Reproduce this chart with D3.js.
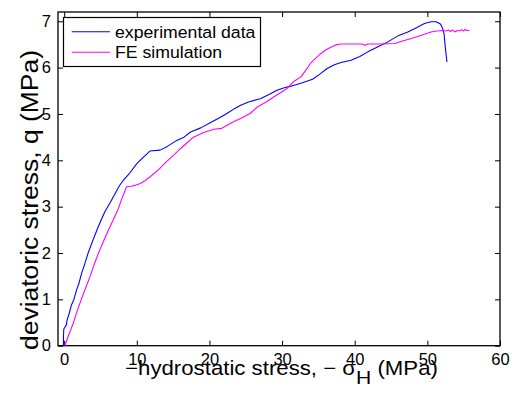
<!DOCTYPE html>
<html><head><meta charset="utf-8">
<script src="https://cdn.jsdelivr.net/npm/d3@7"></script>
<style>
body{margin:0;background:#fff;}
svg{display:block;font-family:"Liberation Sans",Arial,Helvetica,sans-serif;}
</style></head>
<body><svg id="c" width="519" height="396"></svg>
<script>
// ---- data ----
const expX = [-0.1,-0.1,-0.05,0.3,0.4,0.7,1.0,1.3,1.7,2.0,2.4,2.8,3.3,3.9,4.5,5.0,5.6,6.3,7.0,7.6,8.15,9.0,10,11,11.8,13.2,14.2,15.5,16.5,17.4,18.8,20.1,21.2,22.4,23.5,24.3,25.4,27.0,28.2,29.3,30.2,31.2,32.7,34.2,35.2,36.2,37.2,38.1,39.5,40.7,41.8,43.2,44.5,46.0,47.3,48.5,49.6,50.5,51.2,51.8,52.1,52.3,52.4,52.5,52.6,52.7];
const expY = [0,0.2,0.36,0.45,0.55,0.7,0.88,0.98,1.2,1.33,1.56,1.75,2.0,2.25,2.49,2.68,2.89,3.08,3.28,3.45,3.57,3.72,3.93,4.08,4.2,4.22,4.3,4.43,4.5,4.61,4.7,4.81,4.9,5.01,5.12,5.19,5.26,5.33,5.42,5.51,5.56,5.6,5.67,5.75,5.86,5.98,6.06,6.11,6.16,6.24,6.34,6.45,6.55,6.69,6.77,6.86,6.95,6.99,6.99,6.94,6.85,6.73,6.55,6.4,6.25,6.12];
const feX = [0.1,0.6,1.24,1.8,2.4,3.0,3.55,4.1,4.7,5.4,6.08,6.8,7.46,8.0,8.6,9.2,9.77,10.5,11.1,11.8,13.0,14.1,15.0,16.0,17.0,17.8,19.2,20.6,21.7,22.5,23.3,24.3,25.6,26.6,27.8,28.9,30.7,31.6,32.6,33.3,33.9,34.6,35.3,36.0,36.7,37.4,38.1,39.5,41.0,41.4,41.8,43.6,45.5,46.7,47.8,49.2,50.5,51.3,52.1,52.5,52.9,53.2,53.5,53.8,54.1,54.4,54.7,55.0,55.2,55.4,55.8];
const feY = [0,0.22,0.48,0.75,1.02,1.26,1.49,1.74,1.99,2.25,2.49,2.73,2.96,3.2,3.43,3.44,3.46,3.5,3.56,3.64,3.8,3.97,4.1,4.25,4.39,4.5,4.6,4.67,4.69,4.76,4.83,4.9,5.01,5.15,5.26,5.37,5.55,5.7,5.8,5.95,6.09,6.2,6.3,6.38,6.44,6.49,6.51,6.51,6.51,6.48,6.51,6.51,6.52,6.58,6.63,6.7,6.77,6.79,6.8,6.79,6.81,6.78,6.81,6.77,6.8,6.79,6.82,6.79,6.83,6.8,6.8];
const xTicks = [0,10,20,30,40,50,60];
const yTicks = [0,1,2,3,4,5,6,7];
const seriesNames = ["experimental data","FE simulation"];
const seriesColors = ["#0000ff","#ff00ff"];
const xLabelMain = "\u2212hydrostatic stress, \u2212 \u03c3";
const xLabelSub = "H";
const xLabelTail = " (MPa)";
const yLabel = "deviatoric stress, q (MPa)";

// ---- layout ----
const L=58, R=500, T=12, B=345.7;
const svg = d3.select("#c");
const x = d3.scaleLinear().domain([-0.85,60]).range([L,R]);
const y = d3.scaleLinear().domain([0,7.2]).range([B,T]);

function fitWidth(sel, target, cx){
  const w = sel.node().getBBox().width;
  const s = target / w;
  sel.attr("transform", `translate(${cx},0) scale(${s},1) translate(${-cx},0)`);
}

// axes
const fs = "16.5px";
const gx = svg.append("g").attr("transform",`translate(0,${B})`)
  .call(d3.axisBottom(x).tickValues(xTicks).tickSize(-5).tickPadding(10).tickFormat(d3.format("d")));
const gxt = svg.append("g").attr("transform",`translate(0,${T})`)
  .call(d3.axisTop(x).tickValues(xTicks).tickSize(-5).tickFormat(""));
const gy = svg.append("g").attr("transform",`translate(${L},0)`)
  .call(d3.axisLeft(y).tickValues(yTicks).tickSize(-5).tickPadding(7).tickFormat(d3.format("d")));
const gyr = svg.append("g").attr("transform",`translate(${R},0)`)
  .call(d3.axisRight(y).tickValues(yTicks).tickSize(-5).tickFormat(""));
[gx,gxt,gy,gyr].forEach(g=>{
  g.select(".domain").remove();
  g.selectAll(".tick line").attr("stroke","#000").attr("stroke-width",1);
  g.selectAll("text").attr("font-size",fs).attr("fill","#000").attr("font-family",null);
});
gx.selectAll("text").attr("dy","0.55em");
svg.append("rect").attr("x",L).attr("y",T).attr("width",R-L).attr("height",B-T)
  .attr("fill","none").attr("stroke","#000").attr("stroke-width",1.3);

// lines
const line = d3.line().x(d=>x(d[0])).y(d=>y(d[1]));
const series = [d3.zip(expX,expY), d3.zip(feX,feY)];
series.forEach((s,i)=>{
  svg.append("path").datum(s).attr("d",line).attr("fill","none")
    .attr("stroke",seriesColors[i]).attr("stroke-width",1.1).attr("stroke-linejoin","round");
});

// legend
const lg = svg.append("g");
lg.append("rect").attr("x",63.5).attr("y",17.5).attr("width",197).attr("height",49)
  .attr("fill","#fff").attr("stroke","#000").attr("stroke-width",1.2);
seriesNames.forEach((n,i)=>{
  const yy = 31.7 + i*20.6;
  lg.append("line").attr("x1",71.7).attr("x2",110).attr("y1",yy).attr("y2",yy)
    .attr("stroke",seriesColors[i]).attr("stroke-width",1.1);
  const t = lg.append("text").attr("x",115).attr("y",yy+6).attr("font-size","17px").text(n);
  if(i===0) fitWidth(t, 141, 115);
  else fitWidth(t, 141*t.node().getBBox().width/ lg.select("text").node().getBBox().width, 115);
});

// axis labels
const xl = svg.append("text").attr("x",281.5).attr("y",375).attr("text-anchor","middle").attr("font-size","20px");
xl.append("tspan").text(xLabelMain);
xl.append("tspan").attr("dy",9).attr("font-size","19px").text(xLabelSub);
xl.append("tspan").attr("dy",-9).text(xLabelTail);
fitWidth(xl, 313, 281.5);
const yl = svg.append("text").attr("x",-200).attr("y",38).attr("transform","rotate(-90)")
  .attr("text-anchor","middle").attr("font-size","23px").attr("textLength",300)
  .attr("lengthAdjust","spacingAndGlyphs").text(yLabel);
</script></body></html>
